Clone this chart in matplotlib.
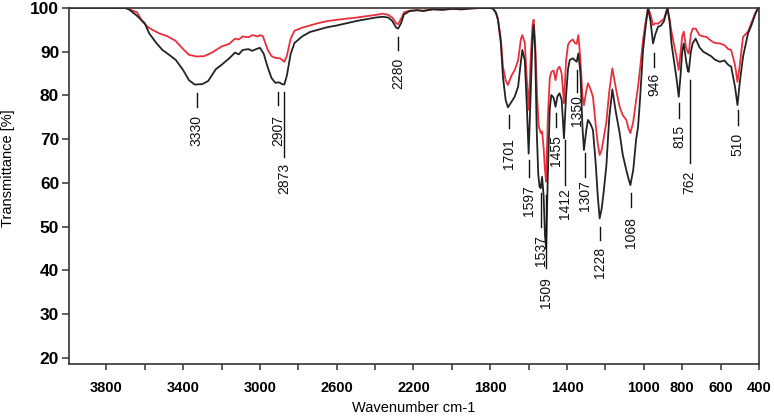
import numpy as np
import matplotlib.pyplot as plt

plt.rcParams['font.family'] = ['Liberation Sans', 'DejaVu Sans']

# black spectrum (wavenumber, transmittance)
wn_black = [4000, 3800, 3700, 3680, 3640, 3600, 3577, 3540, 3508, 3470, 3438, 3400, 3370, 3340, 3300,
            3270, 3230, 3200, 3160, 3130, 3110, 3090, 3060, 3040, 3020, 3000, 2980, 2960, 2940, 2920,
            2900, 2885, 2873, 2860, 2840, 2820, 2780, 2740, 2700, 2650, 2600, 2550, 2500, 2450, 2400,
            2360, 2330, 2310, 2290, 2280, 2265, 2250, 2220, 2180, 2150, 2100, 2050, 2000, 1950, 1900,
            1850, 1800, 1785, 1770, 1760, 1745, 1734, 1720, 1708, 1690, 1673, 1655, 1645, 1633, 1620,
            1610, 1600, 1590, 1580, 1574, 1566, 1558, 1550, 1543, 1537, 1530, 1522, 1515, 1509, 1500,
            1490, 1482, 1470, 1460, 1450, 1439, 1428, 1416, 1405, 1395, 1386, 1370, 1360, 1350, 1341,
            1330, 1320, 1312, 1300, 1291, 1278, 1265, 1250, 1240, 1230, 1220, 1210, 1195, 1180, 1164,
            1145, 1126, 1110, 1091, 1080, 1070, 1055, 1040, 1030, 1020, 1004, 990, 978, 965, 952,
            940, 926, 910, 895, 877, 866, 856, 840, 830, 818, 808, 800, 792, 780, 770,
            766, 755, 745, 730, 710, 690, 674, 650, 630, 604, 580, 560, 545, 525, 512,
            500, 483, 470, 457, 440, 420, 405]
t_black = [100, 100, 100, 99.6, 98.2, 96.5, 94.2, 92, 90.4, 89.2, 88.1, 85.8, 83.5, 82.5, 82.6,
           83.3, 86.0, 87.0, 88.5, 89.8, 89.4, 90.4, 90.6, 90.2, 90.6, 90.9, 89.5, 86.5, 84.0, 82.9,
           83.0, 82.6, 82.5, 84.5, 89.5, 92.0, 93.5, 94.5, 95.0, 95.6, 96.0, 96.5, 97.0, 97.4, 97.8,
           98.0, 97.8, 97.0, 95.5, 95.3, 96.5, 98.5, 99.3, 99.5, 99.3, 99.7, 99.6, 99.8, 99.7, 99.9,
           100, 100, 99.8, 98.8, 97.3, 92, 84.3, 79, 77.3, 78.5, 79.7, 82, 86, 90.4, 88,
           78, 66.7, 80, 93, 96.1, 90, 72, 62, 59.1, 58.8, 61.4, 57, 48, 45, 62,
           77, 80.1, 79.5, 77.4, 79.8, 80.5, 79, 70.2, 80, 86, 88.1, 88.5, 88.1, 87.7, 89.6,
           85, 73, 67.5, 72, 74.4, 73.5, 72.1, 64, 57, 51.9, 54, 57.6, 64, 75, 81.4,
           76, 71.4, 66.5, 62.9, 61, 59.5, 63, 70, 72.8, 79, 90.4, 96, 100, 97, 91.9,
           94, 95.7, 96, 97, 100, 97, 91.9, 87, 84, 79.7, 85, 90, 91.9, 88, 85.5,
           85.4, 90, 92, 93, 91, 90, 89.6, 89, 88.2, 87.7, 88, 87, 86.6, 82, 77.8,
           83, 88.9, 91.5, 94.2, 96, 98.5, 100]

# red spectrum
wn_red = [4000, 3700, 3680, 3640, 3613, 3580, 3525, 3480, 3440, 3400, 3370, 3330, 3290, 3250, 3200,
          3160, 3130, 3110, 3090, 3060, 3040, 3010, 3000, 2985, 2960, 2940, 2920, 2895, 2873, 2860,
          2840, 2820, 2780, 2740, 2700, 2650, 2600, 2500, 2400, 2360, 2330, 2310, 2290, 2280, 2265,
          2250, 2220, 2180, 2150, 2100, 2050, 2000, 1950, 1900, 1850, 1800, 1785, 1770, 1760, 1745,
          1734, 1720, 1708, 1690, 1673, 1655, 1640, 1633, 1620, 1610, 1600, 1590, 1580, 1574, 1566,
          1556, 1548, 1537, 1530, 1522, 1515, 1509, 1500, 1490, 1482, 1470, 1460, 1450, 1439, 1428,
          1416, 1405, 1395, 1386, 1370, 1360, 1350, 1341, 1330, 1320, 1312, 1300, 1291, 1278, 1265,
          1250, 1240, 1230, 1220, 1210, 1195, 1180, 1164, 1145, 1126, 1110, 1091, 1080, 1070, 1055,
          1040, 1030, 1020, 1004, 990, 978, 965, 952, 940, 926, 910, 895, 877, 866, 856,
          840, 830, 818, 808, 800, 792, 780, 770, 766, 755, 745, 730, 710, 690, 674,
          650, 630, 604, 580, 560, 545, 525, 512, 500, 483, 470, 457, 440, 420, 405]
t_red = [100, 100, 99.7, 99, 96.9, 95.5, 94.2, 93.5, 92.5, 90.6, 89.3, 88.9, 89, 89.8, 91.2,
         91.8, 93, 92.8, 93.5, 93.3, 93.8, 93.5, 93.8, 93.6, 90.5, 89, 88.6, 88.5, 87.7, 89,
         93, 94.8, 95.5, 96, 96.5, 97, 97.3, 97.8, 98.4, 98.7, 98.4, 97.8, 96.5, 96.3, 97.5,
         99, 99.4, 99.5, 99.4, 99.7, 99.6, 99.8, 99.7, 99.9, 100, 100, 99.9, 99, 97.5, 93,
         86.6, 83.5, 82.4, 84.5, 85.8, 88, 93, 93.8, 92, 84, 76.7, 88, 96, 97.3, 92,
         80, 73, 71.4, 71.8, 68, 63, 60.3, 75, 84, 85.4, 85.7, 83.5, 86, 86.6, 85,
         78.2, 88, 91.5, 92.3, 92.8, 92, 91.8, 93.8, 88, 80, 77.8, 81, 82.8, 81.5, 79.7,
         73, 69, 66.4, 67.5, 70, 74, 81, 86.2, 81.5, 77.4, 75.5, 74.4, 72.5, 71.4, 74,
         79, 82, 86, 92.7, 97, 100, 98.5, 96.1, 96.5, 96.4, 97, 97.5, 100, 97.5, 94.6,
         91, 89, 85.8, 90, 93.5, 94.6, 91, 89.8, 89.6, 94, 95.3, 95.3, 93.8, 93.5, 93.4,
         92.5, 92, 91.9, 91.5, 90.6, 90.4, 87, 83.1, 87, 93.4, 94, 94.6, 96.5, 98.8, 100]

# peak labels
peaks = [3330, 2907, 2873, 2280, 1701, 1597, 1537, 1509, 1455, 1412, 1350, 1307, 1228, 1068, 946, 815, 762, 510]
# marker line top, line bottom, text top (in %)
line_top = [80.5, 80.8, 80.8, 93.4, 75.5, 65.2, 57.7, 57.2, 76.0, 69.8, 85.8, 66.8, 49.9, 57.7, 89.7, 78.3, 83.5, 76.7]
line_bot = [77.3, 77.8, 65.9, 90.4, 72.5, 61.3, 49.9, 40.5, 72.8, 59.5, 80.8, 61.3, 46.9, 54.5, 86.5, 74.8, 64.5, 73.2]
text_top = [75.5, 75.5, 64.5, 88.6, 70.3, 59.5, 48.0, 38.4, 70.9, 58.8, 80.1, 60.6, 45.3, 52.2, 85.1, 73.2, 62.9, 71.4]

xticks = [3800, 3600, 3400, 3200, 3000, 2800, 2600, 2400, 2200, 2000, 1800, 1600, 1400, 1200, 1000, 800, 600, 400]
xlabels = ['3800', '', '3400', '', '3000', '', '2600', '', '2200', '', '1800', '', '1400', '', '1000', '800', '600', '400']

fig = plt.figure(figsize=(7.74, 4.19), dpi=100)
ax = fig.add_axes([0.0891, 0.1313, 0.8915, 0.8496])

ax.plot(wn_red, t_red, color='#ea2f3c', lw=1.3)
ax.plot(wn_black, t_black, color='#232323', lw=1.3)

for w, a, b, t in zip(peaks, line_top, line_bot, text_top):
    ax.plot([w, w], [a, b], color='#111111', lw=1.0)
    ax.text(w, t, str(w), rotation=90, ha='center', va='top', fontsize=10, color='#111111')

ax.set_xlim(3995, 400)
ax.set_ylim(18.6, 100)
ax.set_xticks(xticks)
ax.set_xticklabels(xlabels)
ax.set_yticks(range(20, 101, 10))

for s in ax.spines.values():
    s.set_color('#333333')
    s.set_linewidth(1.2)
ax.tick_params(axis='x', direction='out', length=4.5, width=1.1, color='#333333', pad=8, labelsize=10.5)
ax.tick_params(axis='y', direction='out', length=5, width=1.1, color='#333333', pad=2, labelsize=12.5)
for lab in ax.get_xticklabels() + ax.get_yticklabels():
    lab.set_fontweight('bold')

ax.set_xlabel('Wavenumber cm-1', fontsize=10.5)
ax.xaxis.set_label_coords(0.5, -0.105)
ax.set_ylabel('Transmittance [%]', fontsize=10.5)
ax.yaxis.set_label_coords(-0.078, 0.55)

fig.savefig('out.png', dpi=100)
